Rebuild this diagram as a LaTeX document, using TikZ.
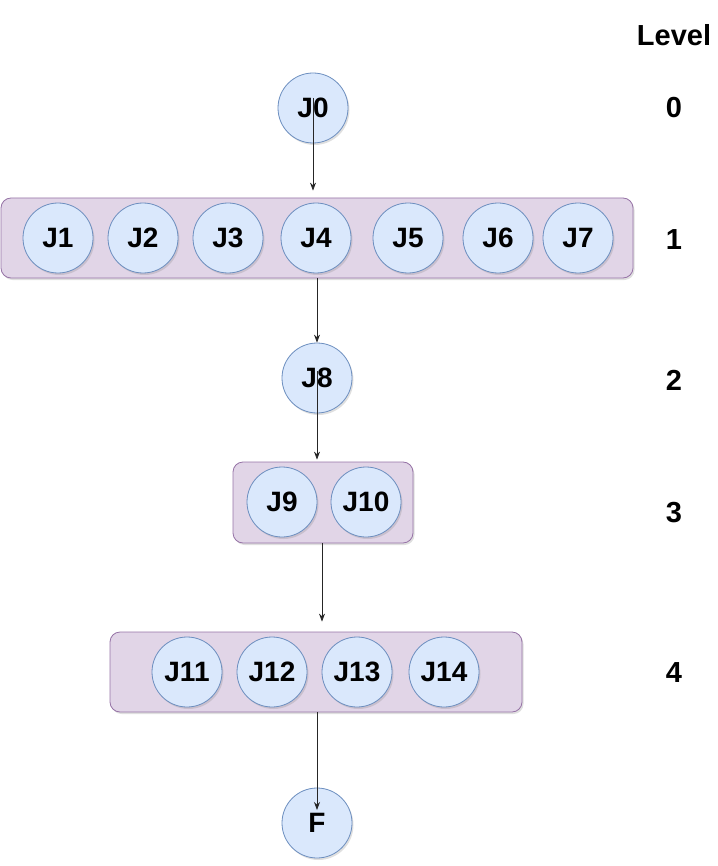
\documentclass[tikz,border=0pt]{standalone}
\usepackage{fontspec}
\setmainfont{Liberation Sans}
\usetikzlibrary{shadows,arrows.meta}
\definecolor{jfill}{HTML}{DAE8FC}
\definecolor{jdraw}{HTML}{6C8EBF}
\definecolor{bfill}{HTML}{E1D5E7}
\definecolor{bdraw}{HTML}{9673A6}
\tikzset{
  x=1pt,y=-1pt,
  job/.style={circle,draw=jdraw,fill=jfill,line width=0.8pt,minimum size=70pt,inner sep=0pt,
    font=\fontsize{28}{32}\selectfont\bfseries,
    drop shadow={shadow xshift=1.5pt,shadow yshift=-2pt,opacity=0.25}},
  group/.style={rectangle,rounded corners=10pt,draw=bdraw,fill=bfill,line width=0.8pt,inner sep=0pt,
    drop shadow={shadow xshift=1.5pt,shadow yshift=-2pt,opacity=0.25}},
  lvl/.style={font=\fontsize{29}{32}\selectfont\bfseries},
  conn/.style={draw=black!85,line width=0.8pt,-{Stealth[length=8pt,width=6pt]}}
}
\begin{document}
\begin{tikzpicture}
\useasboundingbox (0,0) rectangle (717,866);
% groups
\node[group,minimum width=632pt,minimum height=80pt] (g1) at (317,238) {};
\node[group,minimum width=180pt,minimum height=81pt] (g3) at (323,502.5) {};
\node[group,minimum width=412pt,minimum height=80pt] (g4) at (316,672) {};
% jobs
\node[job] (J0) at (313,108) {J0};
\node[job] (J1) at (58,238) {J1};
\node[job] (J2) at (143,238) {J2};
\node[job] (J3) at (228,238) {J3};
\node[job] (J4) at (316,238) {J4};
\node[job] (J5) at (408,238) {J5};
\node[job] (J6) at (498,238) {J6};
\node[job] (J7) at (578,238) {J7};
\node[job] (J8) at (317,378) {J8};
\node[job] (J9) at (282,502) {J9};
\node[job] (J10) at (366,502) {J10};
\node[job] (J11) at (187,672) {J11};
\node[job] (J12) at (272,672) {J12};
\node[job] (J13) at (357,672) {J13};
\node[job] (J14) at (444,672) {J14};
\node[job] (F) at (317,823) {F};
% levels
\node[lvl] (lv) at (674,35) {Level};
\node[lvl] (l0) at (674,108) {0};
\node[lvl] (l1) at (674,240) {1};
\node[lvl] (l2) at (674,380) {2};
\node[lvl] (l3) at (674,513) {3};
\node[lvl] (l4) at (674,673) {4};
% connectors
\coordinate (a0) at ([yshift=10pt]J0.center);
\draw[conn,shorten >=7pt] (a0) -- (a0 |- g1.north);
\coordinate (a1) at (J8.north |- g1.south);
\draw[conn] (a1) -- (J8.north);
\coordinate (a2) at ([yshift=7pt]J8.center);
\draw[conn,shorten >=2pt] (a2) -- (a2 |- g3.north);
\coordinate (a3) at ([xshift=-1pt]g3.south);
\draw[conn,shorten >=10pt] (a3) -- (a3 |- g4.north);
\coordinate (a4) at (F.center |- g4.south);
\draw[conn,shorten >=13pt] (a4) -- (F.center);
\end{tikzpicture}
\end{document}
